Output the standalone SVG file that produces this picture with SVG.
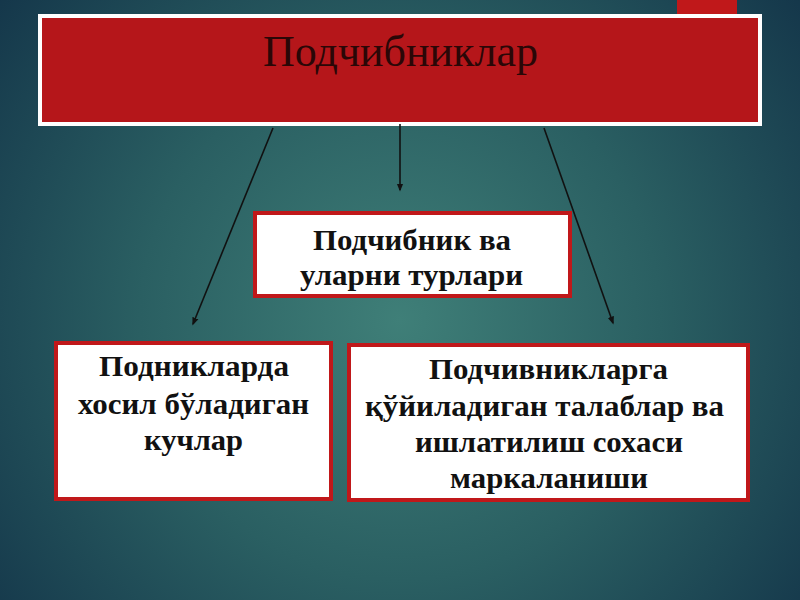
<svg xmlns="http://www.w3.org/2000/svg" width="800" height="600" viewBox="0 0 800 600">
<defs>
<radialGradient id="bg" cx="400" cy="320" r="520" gradientUnits="userSpaceOnUse">
<stop offset="0" stop-color="#3f7f78"/>
<stop offset="0.5" stop-color="#2a5f62"/>
<stop offset="1" stop-color="#14364a"/>
</radialGradient>
<marker id="ah" viewBox="0 0 10 10" refX="8" refY="5" markerWidth="5" markerHeight="5" orient="auto">
<path d="M0,1 L10,5 L0,9 z" fill="#111"/>
</marker>
<style>
.box{fill:#fff;stroke:#c0181a;stroke-width:4}
.t{font-family:"Liberation Serif","DejaVu Serif",serif;font-weight:bold;font-size:30px;fill:#111}
.c{stroke:#111;stroke-width:1.6;fill:none;marker-end:url(#ah)}
</style>
</defs>
<rect width="800" height="600" fill="url(#bg)"/>
<rect x="677" y="0" width="60" height="16" fill="#c0181a"/>
<g id="title">
<rect x="40" y="16" width="720" height="108" fill="#b5161a" stroke="#fff" stroke-width="4"/>
<text x="263" y="66" textLength="275" lengthAdjust="spacingAndGlyphs" font-family="Liberation Serif,DejaVu Serif,serif" font-size="44" fill="#2a0707">Подчибниклар</text>
</g>
<g id="connectors">
<line class="c" x1="273" y1="128" x2="193" y2="324"/>
<line class="c" x1="400" y1="124" x2="400" y2="190"/>
<line class="c" x1="544" y1="128" x2="613" y2="323"/>
</g>
<g id="types">
<rect class="box" x="255" y="213" width="315" height="83"/>
<text class="t" x="313" y="250" textLength="198" lengthAdjust="spacingAndGlyphs">Подчибник ва</text>
<text class="t" x="300" y="285" textLength="223" lengthAdjust="spacingAndGlyphs">уларни турлари</text>
</g>
<g id="forces">
<rect class="box" x="56" y="343" width="275" height="156"/>
<text class="t" x="99" y="376" textLength="190" lengthAdjust="spacingAndGlyphs">Подникларда</text>
<text class="t" x="78" y="414" textLength="231" lengthAdjust="spacingAndGlyphs">хосил бўладиган</text>
<text class="t" x="144" y="450" textLength="99" lengthAdjust="spacingAndGlyphs">кучлар</text>
</g>
<g id="requirements">
<rect class="box" x="349" y="345" width="399" height="155"/>
<text class="t" x="429" y="379" textLength="239" lengthAdjust="spacingAndGlyphs">Подчивникларга</text>
<text class="t" x="365" y="416" textLength="359" lengthAdjust="spacingAndGlyphs">қўйиладиган талаблар ва</text>
<text class="t" x="415" y="452" textLength="268" lengthAdjust="spacingAndGlyphs">ишлатилиш сохаси</text>
<text class="t" x="450" y="488" textLength="198" lengthAdjust="spacingAndGlyphs">маркаланиши</text>
</g>
</svg>
